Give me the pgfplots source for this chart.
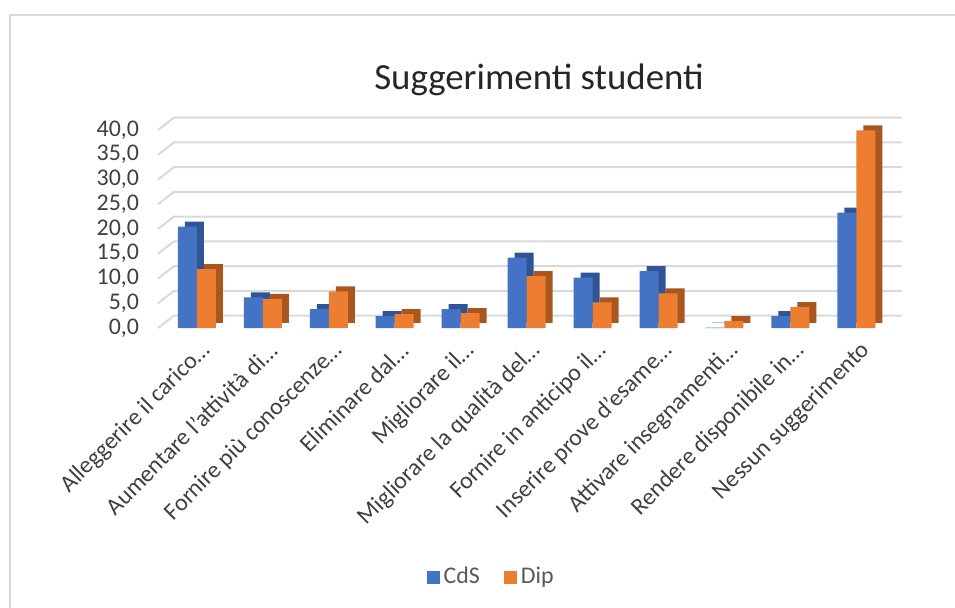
\documentclass[border=0pt]{standalone}
\usepackage{fontspec}
\setmainfont{Carlito}
\usepackage{pgfplots}
\usepackage{pgfplotstable}
\pgfplotsset{compat=1.18}
\definecolor{cdsF}{HTML}{4472C4}
\definecolor{cdsS}{HTML}{2F5597}
\definecolor{dipF}{HTML}{ED7D31}
\definecolor{dipS}{HTML}{A9561F}
\definecolor{gridc}{HTML}{D9D9D9}
\definecolor{txt}{HTML}{404040}
\definecolor{legtxt}{HTML}{595959}
\pgfplotstableread{
x cds dip
0 20.5 11.9
1 6.2 5.9
2 3.8 7.4
3 2.4 2.8
4 3.8 3.0
5 14.2 10.5
6 10.2 5.2
7 11.5 7.0
8 0.1 1.4
9 2.4 4.2
10 23.3 39.9
}\data
\begin{document}
\begin{tikzpicture}
\path[use as bounding box] (0,0) rectangle (477.5bp,304bp);
\draw[gridc, line width=1bp] (5bp,0) -- (5bp,296.5bp) -- (477.5bp,296.5bp);
\begin{axis}[
  at={(79bp,140bp)}, anchor=south west,
  scale only axis, width=364bp, height=99bp,
  xmin=-0.59, xmax=10.45, ymin=0, ymax=40,
  ybar, bar width=9.5bp,
  clip=false,
  axis line style={draw=none},
  major tick length=0pt,
  ytick={0,5,...,40},
  xtick={0,...,10},
  xticklabels={Alleggerire il carico…, Aumentare l’attività di…, Fornire più conoscenze…, Eliminare dal…, Migliorare il…, Migliorare la qualità del…, Fornire in anticipo il…, Inserire prove d’esame…, Attivare insegnamenti…, Rendere disponibile in…, Nessun suggerimento},
  xticklabel style={xshift=7.5bp, yshift=-7bp, rotate=45, anchor=east, font=\fontsize{12}{14}\selectfont, text=txt},
  yticklabel style={xshift=-6bp, font=\fontsize{12}{14}\selectfont, text=txt},
  /pgf/number format/.cd, use comma, fixed, fixed zerofill, precision=1, assume math mode=true, /pgfplots/.cd,
  legend columns=2,
  legend style={draw=none, at={(0.459,-1.258)}, anchor=center, font=\fontsize{12}{14}\selectfont, text=legtxt,
    /tikz/every even column/.append style={column sep=10bp}},
  legend image code/.code={\fill[#1] (0bp,-3.25bp) rectangle (6.5bp,3.25bp);},
]
\pgfplotsinvokeforeach{0,5,...,40}{
  \draw[gridc, line width=1bp] (axis cs:-0.59,#1) -- ++(8bp,6.2bp) -- ([shift={(8bp,6.2bp)}]axis cs:10.45,#1);
}
\addplot[forget plot, draw=none, fill=cdsS, bar shift=-1.25bp, yshift=2.5bp] table[x=x, y=cds] {\data};
\addplot[draw=none, fill=cdsF, bar shift=-4.75bp] table[x=x, y=cds] {\data};
\addplot[forget plot, draw=none, fill=dipS, bar shift=8.25bp, yshift=2.5bp] table[x=x, y=dip] {\data};
\addplot[draw=none, fill=dipF, bar shift=4.75bp] table[x=x, y=dip] {\data};
\legend{CdS, Dip}
\end{axis}
\node[anchor=base, font=\fontsize{18.5}{22}\selectfont, text=black!85] at (269.5bp,259bp) {Suggerimenti studenti};
\end{tikzpicture}
\end{document}
